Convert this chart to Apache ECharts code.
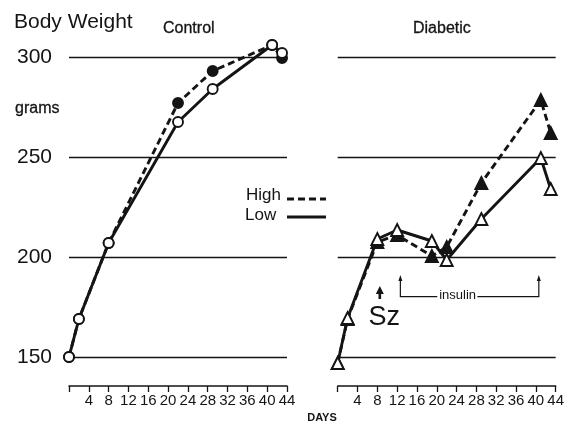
<!DOCTYPE html>
<html><head><meta charset="utf-8">
<script src="https://cdn.jsdelivr.net/npm/echarts@6/dist/echarts.min.js"></script>
<style>html,body{margin:0;padding:0;background:#fff}#c{width:567px;height:424px}</style>
</head><body><div id="c"></div>
<script>
// ---- data (days, grams) ----
const controlDays = [0, 2, 8, 22, 29, 41, 43];
const controlHigh = [150, 169, 207, 277, 293, 306, 299.5];
const controlLow  = [150, 169, 207, 267.5, 284, 306, 302];
const diabeticDays = [0, 2, 8, 12, 19, 22, 29, 41, 43];
const diabeticHigh = [147, 169, 207.5, 211, 200.5, 205, 237, 278.5, 262];
const diabeticLow  = [147, 169.5, 209, 213.5, 208, 198.5, 219, 249.5, 234];
const yTicks = [150, 200, 250, 300];
const xTickLabels = [4, 8, 12, 16, 20, 24, 28, 32, 36, 40, 44];
const szDay = 8.5;
const insulinStart = 12.65, insulinEnd = 40.6;

const INK = '#141414';
const FONT = "'Liberation Sans', Arial, sans-serif";
const NARROW = "'Liberation Sans Narrow', 'Liberation Sans', Arial, sans-serif";

const chart = echarts.init(document.getElementById('c'), null, {renderer: 'canvas'});
const pairs = (xs, ys) => xs.map((x, i) => [x, ys[i]]);

function xAxis(gi) {
  return {
    type: 'value', gridIndex: gi, min: 0, max: 44, interval: 4, offset: 29,
    axisLine: {show: true, lineStyle: {color: INK, width: 1.5}},
    axisTick: {show: true, length: 6, lineStyle: {color: INK, width: 1.3}},
    axisLabel: {color: INK, fontSize: 15, fontFamily: NARROW, margin: 7,
      formatter: v => xTickLabels.indexOf(v) >= 0 ? String(v) : ''},
    splitLine: {show: false}
  };
}
function yAxis(gi, showLabels) {
  return {
    type: 'value', gridIndex: gi, min: yTicks[0], max: yTicks[yTicks.length - 1], interval: 50,
    axisLine: {show: false}, axisTick: {show: false},
    axisLabel: {show: showLabels, color: INK, fontSize: 21, fontFamily: FONT, margin: 17},
    splitLine: {show: true, lineStyle: {color: INK, width: 1.3}}
  };
}
function series(name, gi, xs, ys, dashed, symbol, filled) {
  return {
    type: 'line', name: name, xAxisIndex: gi, yAxisIndex: gi,
    data: pairs(xs, ys), clip: false, animation: false,
    symbol: symbol, symbolSize: symbol === 'triangle' ? 12 : 10,
    lineStyle: {color: INK, width: 2.9, type: dashed ? [7, 4] : 'solid'},
    itemStyle: {color: filled ? INK : '#fff', borderColor: INK, borderWidth: 1.9},
    emphasis: {disabled: true}, z: filled ? 3 : 4
  };
}

chart.setOption({
  backgroundColor: '#fff',
  animation: false,
  grid: [
    {left: 69, width: 218, top: 57, height: 300},
    {left: 337.7, width: 219, top: 57, height: 300}
  ],
  xAxis: [xAxis(0), xAxis(1)],
  yAxis: [yAxis(0, true), yAxis(1, false)],
  series: [
    series('High', 0, controlDays, controlHigh, true, 'circle', true),
    series('Low', 0, controlDays, controlLow, false, 'circle', false),
    series('High', 1, diabeticDays, diabeticHigh, true, 'triangle', true),
    series('Low', 1, diabeticDays, diabeticLow, false, 'triangle', false)
  ]
});

const p = (gi, x, y) => chart.convertToPixel({gridIndex: gi}, [x, y]);
const txt = (text, x, y, size, opts) => Object.assign({
  type: 'text', x: x, y: y, silent: true,
  style: Object.assign({text: text, fill: INK, font: size + 'px ' + FONT,
    textAlign: 'left', textVerticalAlign: 'middle'}, (opts && opts.style) || {})
}, opts && opts.el || {});
const line = (pts, width, dash) => ({type: 'polyline', silent: true,
  shape: {points: pts}, style: {stroke: INK, lineWidth: width, fill: null, lineDash: dash || null}});
const arrowHead = (x, yTop, w, h) => ({type: 'polygon', silent: true,
  shape: {points: [[x, yTop], [x - w / 2, yTop + h], [x + w / 2, yTop + h]]}, style: {fill: INK}});

// annotation geometry via axis scales
const szTop = p(1, szDay, 185.5), szBot = p(1, szDay, 179);
const szText = p(1, 9.4, 169.5);
const insL = p(1, insulinStart, 180.2), insR = p(1, insulinEnd, 180.2);
const insTopL = p(1, insulinStart, 191), insTopR = p(1, insulinEnd, 191);
const insTextL = p(1, 20.1, 180.2), insTextR = p(1, 28.2, 180.2), insText = p(1, 24.2, 180.2);

chart.setOption({
  graphic: [
    txt('Body Weight', 14, 22, 21),
    txt('Control', 163, 28.5, 16, {style: {font: '500 16px ' + FONT, stroke: INK, lineWidth: 0.3}}),
    txt('Diabetic', 413, 29, 16, {style: {font: '500 16px ' + FONT, stroke: INK, lineWidth: 0.3}}),
    txt('grams', 15, 108.5, 16, {style: {stroke: INK, lineWidth: 0.3}}),
    txt('DAYS', 322, 418, 11, {style: {font: 'bold 11px ' + FONT, textAlign: 'center'}}),
    // legend
    txt('High', 246, 195, 17),
    line([[287, 199], [326, 199]], 2.9, [7, 4]),
    txt('Low', 245, 215.5, 17),
    line([[287, 217], [326, 217]], 2.9),
    // Sz arrow
    line([[szBot[0], szBot[1]], [szTop[0], szTop[1] + 5]], 2.6),
    arrowHead(szTop[0], szTop[1], 8, 8),
    txt('Sz', szText[0], szText[1], 27, {style: {textAlign: 'center', font: '27px ' + NARROW}}),
    // insulin bracket
    line([[insTopL[0], insTopL[1] + 4], [insL[0], insL[1]], [insTextL[0], insTextL[1]]], 1.2),
    line([[insTextR[0], insTextR[1]], [insR[0], insR[1]], [insTopR[0], insTopR[1] + 4]], 1.2),
    arrowHead(insTopL[0], insTopL[1], 4, 6),
    arrowHead(insTopR[0], insTopR[1], 4, 6),
    txt('insulin', insText[0], insText[1] - 1, 13, {style: {textAlign: 'center'}})
  ]
});
</script>
</body></html>
